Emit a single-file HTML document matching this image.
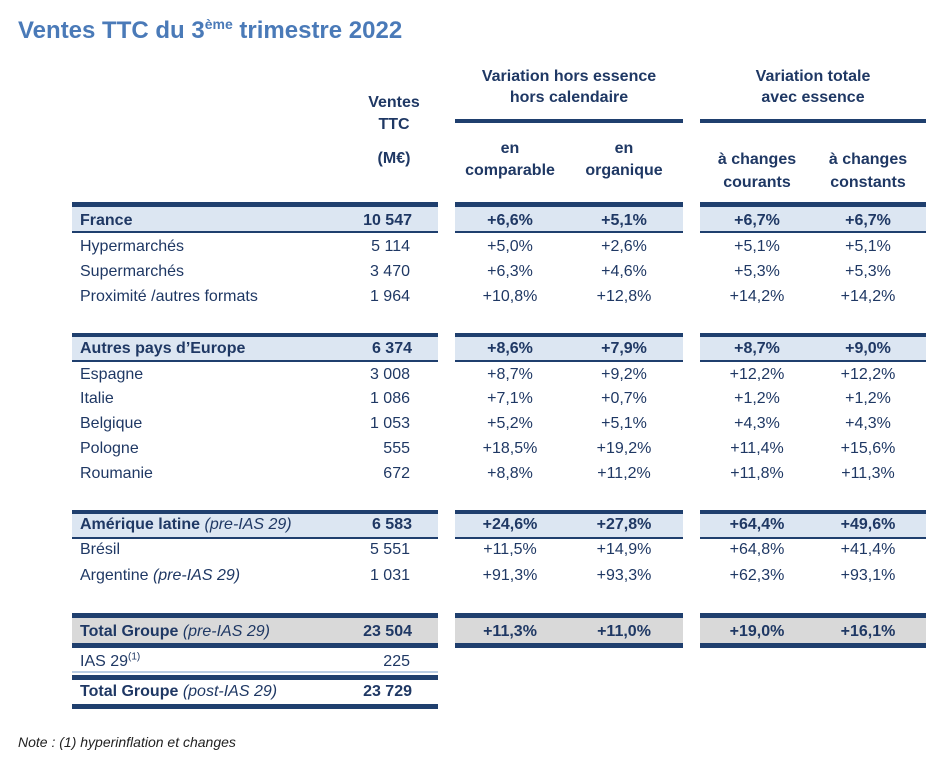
<!DOCTYPE html>
<html><head><meta charset="utf-8"><style>
body{margin:0;width:944px;height:757px;background:#fff;position:relative;overflow:hidden;font-family:"Liberation Sans",sans-serif;color:#1f3864}
.t{position:absolute;font-size:16px;line-height:18px;white-space:nowrap}
.b{font-weight:bold}
.c{transform:translateX(-50%);text-align:center}
.r{transform:translateX(-100%)}
.bar{position:absolute;background:#1f3f6e}
.band{position:absolute;background:#dce6f2}
.gray{position:absolute;background:#d9d9d9}
i{font-style:italic;font-weight:normal}
sup.s{font-size:10px;line-height:0;vertical-align:super}
</style></head><body>
<div class="t b" style="left:18px;top:16px;font-size:24px;line-height:30px;color:#4a7ab8">Ventes TTC du 3<sup style="font-size:14px;line-height:0">ème</sup> trimestre 2022</div>

<div class="t b c" style="left:394px;top:92px;line-height:22px">Ventes<br>TTC</div>
<div class="t b c" style="left:394px;top:150px">(M€)</div>
<div class="t b c" style="left:569px;top:66px;line-height:21px">Variation hors essence<br>hors calendaire</div>
<div class="t b c" style="left:813px;top:66px;line-height:21px">Variation totale<br>avec essence</div>
<div class="bar" style="left:455px;top:119px;width:228px;height:4px"></div>
<div class="bar" style="left:700px;top:119px;width:226px;height:4px"></div>
<div class="t b c" style="left:510px;top:138px;line-height:22px">en<br>comparable</div>
<div class="t b c" style="left:624px;top:138px;line-height:22px">en<br>organique</div>
<div class="t b c" style="left:757px;top:148px;line-height:23px">à changes<br>courants</div>
<div class="t b c" style="left:868px;top:148px;line-height:23px">à changes<br>constants</div>

<!-- France -->
<div class="band" style="left:72px;top:207px;width:366px;height:24px"></div><div class="band" style="left:455px;top:207px;width:228px;height:24px"></div><div class="band" style="left:700px;top:207px;width:226px;height:24px"></div>
<div class="bar" style="left:72px;top:202px;width:366px;height:5px"></div><div class="bar" style="left:455px;top:202px;width:228px;height:5px"></div><div class="bar" style="left:700px;top:202px;width:226px;height:5px"></div>
<div class="bar" style="left:72px;top:231px;width:366px;height:2px"></div><div class="bar" style="left:455px;top:231px;width:228px;height:2px"></div><div class="bar" style="left:700px;top:231px;width:226px;height:2px"></div>

<!-- Autres -->
<div class="band" style="left:72px;top:337px;width:366px;height:23px"></div><div class="band" style="left:455px;top:337px;width:228px;height:23px"></div><div class="band" style="left:700px;top:337px;width:226px;height:23px"></div>
<div class="bar" style="left:72px;top:333px;width:366px;height:4px"></div><div class="bar" style="left:455px;top:333px;width:228px;height:4px"></div><div class="bar" style="left:700px;top:333px;width:226px;height:4px"></div>
<div class="bar" style="left:72px;top:360px;width:366px;height:2px"></div><div class="bar" style="left:455px;top:360px;width:228px;height:2px"></div><div class="bar" style="left:700px;top:360px;width:226px;height:2px"></div>

<!-- Amerique -->
<div class="band" style="left:72px;top:514px;width:366px;height:23px"></div><div class="band" style="left:455px;top:514px;width:228px;height:23px"></div><div class="band" style="left:700px;top:514px;width:226px;height:23px"></div>
<div class="bar" style="left:72px;top:510px;width:366px;height:4px"></div><div class="bar" style="left:455px;top:510px;width:228px;height:4px"></div><div class="bar" style="left:700px;top:510px;width:226px;height:4px"></div>
<div class="bar" style="left:72px;top:537px;width:366px;height:2px"></div><div class="bar" style="left:455px;top:537px;width:228px;height:2px"></div><div class="bar" style="left:700px;top:537px;width:226px;height:2px"></div>

<!-- Total pre -->
<div class="gray" style="left:72px;top:618px;width:366px;height:25px"></div><div class="gray" style="left:455px;top:618px;width:228px;height:25px"></div><div class="gray" style="left:700px;top:618px;width:226px;height:25px"></div>
<div class="bar" style="left:72px;top:613px;width:366px;height:5px"></div><div class="bar" style="left:455px;top:613px;width:228px;height:5px"></div><div class="bar" style="left:700px;top:613px;width:226px;height:5px"></div>
<div class="bar" style="left:72px;top:643px;width:366px;height:5px"></div><div class="bar" style="left:455px;top:643px;width:228px;height:5px"></div><div class="bar" style="left:700px;top:643px;width:226px;height:5px"></div>
<div class="band" style="left:72px;top:671px;width:366px;height:2px;background:#b8cce4"></div>
<div class="bar" style="left:72px;top:675px;width:366px;height:5px"></div>
<div class="bar" style="left:72px;top:704px;width:366px;height:5px"></div>

<!-- rows -->
<div class="t b" style="left:80px;top:212px">France</div><div class="t b r" style="left:412px;top:212px">10 547</div><div class="t b c" style="left:510px;top:212px">+6,6%</div><div class="t b c" style="left:624px;top:212px">+5,1%</div><div class="t b c" style="left:757px;top:212px">+6,7%</div><div class="t b c" style="left:868px;top:212px">+6,7%</div>
<div class="t" style="left:80px;top:238px">Hypermarchés</div><div class="t r" style="left:410px;top:238px">5 114</div><div class="t c" style="left:510px;top:238px">+5,0%</div><div class="t c" style="left:624px;top:238px">+2,6%</div><div class="t c" style="left:757px;top:238px">+5,1%</div><div class="t c" style="left:868px;top:238px">+5,1%</div>
<div class="t" style="left:80px;top:263px">Supermarchés</div><div class="t r" style="left:410px;top:263px">3 470</div><div class="t c" style="left:510px;top:263px">+6,3%</div><div class="t c" style="left:624px;top:263px">+4,6%</div><div class="t c" style="left:757px;top:263px">+5,3%</div><div class="t c" style="left:868px;top:263px">+5,3%</div>
<div class="t" style="left:80px;top:288px">Proximité /autres formats</div><div class="t r" style="left:410px;top:288px">1 964</div><div class="t c" style="left:510px;top:288px">+10,8%</div><div class="t c" style="left:624px;top:288px">+12,8%</div><div class="t c" style="left:757px;top:288px">+14,2%</div><div class="t c" style="left:868px;top:288px">+14,2%</div>

<div class="t b" style="left:80px;top:340px">Autres pays d’Europe</div><div class="t b r" style="left:412px;top:340px">6 374</div><div class="t b c" style="left:510px;top:340px">+8,6%</div><div class="t b c" style="left:624px;top:340px">+7,9%</div><div class="t b c" style="left:757px;top:340px">+8,7%</div><div class="t b c" style="left:868px;top:340px">+9,0%</div>
<div class="t" style="left:80px;top:366px">Espagne</div><div class="t r" style="left:410px;top:366px">3 008</div><div class="t c" style="left:510px;top:366px">+8,7%</div><div class="t c" style="left:624px;top:366px">+9,2%</div><div class="t c" style="left:757px;top:366px">+12,2%</div><div class="t c" style="left:868px;top:366px">+12,2%</div>
<div class="t" style="left:80px;top:390px">Italie</div><div class="t r" style="left:410px;top:390px">1 086</div><div class="t c" style="left:510px;top:390px">+7,1%</div><div class="t c" style="left:624px;top:390px">+0,7%</div><div class="t c" style="left:757px;top:390px">+1,2%</div><div class="t c" style="left:868px;top:390px">+1,2%</div>
<div class="t" style="left:80px;top:415px">Belgique</div><div class="t r" style="left:410px;top:415px">1 053</div><div class="t c" style="left:510px;top:415px">+5,2%</div><div class="t c" style="left:624px;top:415px">+5,1%</div><div class="t c" style="left:757px;top:415px">+4,3%</div><div class="t c" style="left:868px;top:415px">+4,3%</div>
<div class="t" style="left:80px;top:440px">Pologne</div><div class="t r" style="left:410px;top:440px">555</div><div class="t c" style="left:510px;top:440px">+18,5%</div><div class="t c" style="left:624px;top:440px">+19,2%</div><div class="t c" style="left:757px;top:440px">+11,4%</div><div class="t c" style="left:868px;top:440px">+15,6%</div>
<div class="t" style="left:80px;top:465px">Roumanie</div><div class="t r" style="left:410px;top:465px">672</div><div class="t c" style="left:510px;top:465px">+8,8%</div><div class="t c" style="left:624px;top:465px">+11,2%</div><div class="t c" style="left:757px;top:465px">+11,8%</div><div class="t c" style="left:868px;top:465px">+11,3%</div>

<div class="t b" style="left:80px;top:516px">Amérique latine <i>(pre-IAS 29)</i></div><div class="t b r" style="left:412px;top:516px">6 583</div><div class="t b c" style="left:510px;top:516px">+24,6%</div><div class="t b c" style="left:624px;top:516px">+27,8%</div><div class="t b c" style="left:757px;top:516px">+64,4%</div><div class="t b c" style="left:868px;top:516px">+49,6%</div>
<div class="t" style="left:80px;top:541px">Brésil</div><div class="t r" style="left:410px;top:541px">5 551</div><div class="t c" style="left:510px;top:541px">+11,5%</div><div class="t c" style="left:624px;top:541px">+14,9%</div><div class="t c" style="left:757px;top:541px">+64,8%</div><div class="t c" style="left:868px;top:541px">+41,4%</div>
<div class="t" style="left:80px;top:567px">Argentine <i>(pre-IAS 29)</i></div><div class="t r" style="left:410px;top:567px">1 031</div><div class="t c" style="left:510px;top:567px">+91,3%</div><div class="t c" style="left:624px;top:567px">+93,3%</div><div class="t c" style="left:757px;top:567px">+62,3%</div><div class="t c" style="left:868px;top:567px">+93,1%</div>

<div class="t b" style="left:80px;top:623px">Total Groupe <i>(pre-IAS 29)</i></div><div class="t b r" style="left:412px;top:623px">23 504</div><div class="t b c" style="left:510px;top:623px">+11,3%</div><div class="t b c" style="left:624px;top:623px">+11,0%</div><div class="t b c" style="left:757px;top:623px">+19,0%</div><div class="t b c" style="left:868px;top:623px">+16,1%</div>
<div class="t" style="left:80px;top:653px">IAS 29<sup class="s">(1)</sup></div><div class="t r" style="left:410px;top:653px">225</div>
<div class="t b" style="left:80px;top:683px">Total Groupe <i>(post-IAS 29)</i></div><div class="t b r" style="left:412px;top:683px">23 729</div>

<div class="t" style="left:18px;top:733px;font-size:14px;font-style:italic;color:#222">Note : (1) hyperinflation et changes</div>
</body></html>
